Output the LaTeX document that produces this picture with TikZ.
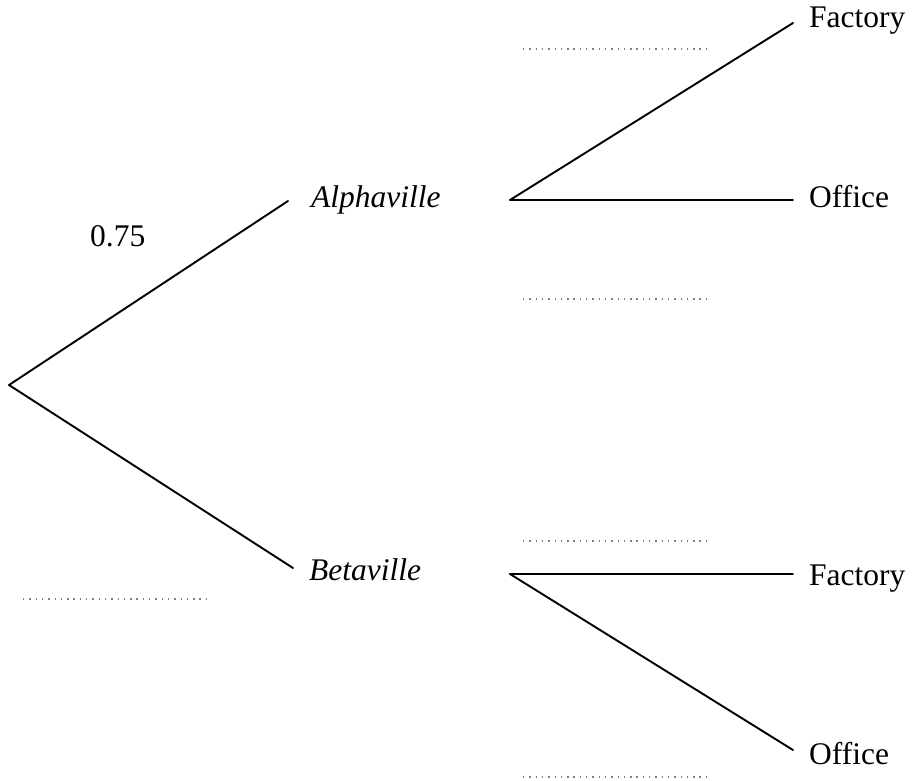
\documentclass[tikz,border=0pt]{standalone}
\usepackage{fontspec}
\setmainfont{Liberation Serif}
\begin{document}
\begin{tikzpicture}[x=1pt,y=-1pt,
  branch/.style={line width=1.9pt, line cap=round},
  lbl/.style={anchor=base west, inner sep=0pt, font=\fontsize{31.5}{37}\selectfont},
  blank/.style={gray, line width=1.4pt, dash pattern=on 1.4pt off 4.9pt}]
\useasboundingbox (0,0) rectangle (913,781);
% coordinates of the tree
\coordinate (root) at (9,385);
\coordinate (A) at (288,201);
\coordinate (B) at (293,568);
\coordinate (A0) at (510,200);
\coordinate (AF) at (793,23);
\coordinate (AO) at (793,200);
\coordinate (B0) at (510,574);
\coordinate (BF) at (793,574);
\coordinate (BO) at (793,750);
% labels
\node[lbl] (alpha) at (311,207) {\itshape Alphaville};
\node[lbl] (beta) at (309,580) {\itshape Betaville};
\node[lbl] (p) at (90,246) {0.75};
\node[lbl] (af) at (809,28) {Factory};
\node[lbl] (ao) at (809,207) {Office};
\node[lbl] (bf) at (809,585) {Factory};
\node[lbl] (bo) at (809,764) {Office};
% branches
\draw[branch] (root) -- (A);
\draw[branch] (root) -- (B);
\draw[branch] (A0) -- (AF);
\draw[branch] (A0) -- (AO);
\draw[branch] (B0) -- (BF);
\draw[branch] (B0) -- (BO);
% blanks
\draw[blank] (523,49) -- (710,49);
\draw[blank] (523,299) -- (710,299);
\draw[blank] (523,541) -- (710,541);
\draw[blank] (523,777) -- (710,777);
\draw[blank] (23,599) -- (210,599);
\end{tikzpicture}
\end{document}
